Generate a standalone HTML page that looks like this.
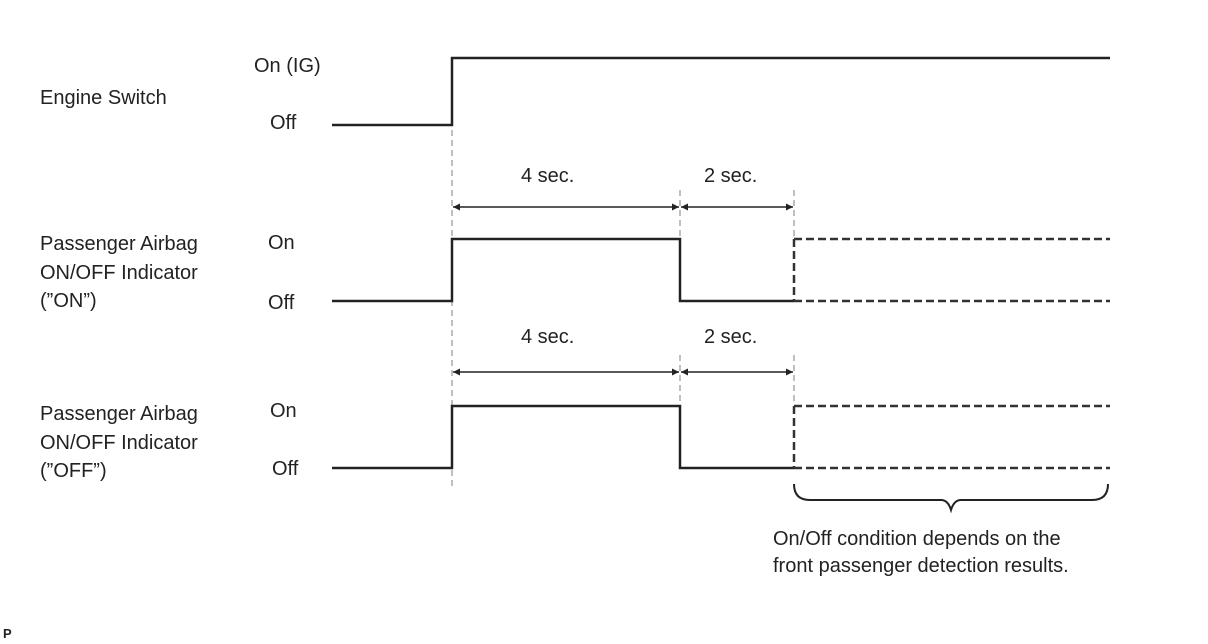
<!DOCTYPE html>
<html><head><style>
html,body{margin:0;padding:0;background:#fff;}
svg{display:block;}
text{font-family:"Liberation Sans",sans-serif;font-size:20px;fill:#222;}
</style></head><body>
<svg width="1208" height="644" viewBox="0 0 1208 644" xmlns="http://www.w3.org/2000/svg">
<defs>
<marker id="a" viewBox="0 0 10 10" refX="10" refY="5" markerWidth="9" markerHeight="7" orient="auto-start-reverse" markerUnits="userSpaceOnUse"><path d="M0,0 L10,5 L0,10 z" fill="#222"/></marker>
</defs>
<!-- dashed guides -->
<g stroke="#aaa" stroke-width="1.5" stroke-dasharray="6,4" fill="none">
<line x1="452" y1="130" x2="452" y2="490"/>
<line x1="680" y1="190" x2="680" y2="240"/>
<line x1="794" y1="190" x2="794" y2="240"/>
<line x1="680" y1="355" x2="680" y2="405"/>
<line x1="794" y1="355" x2="794" y2="405"/>
</g>
<g stroke="#222" stroke-width="2.5" fill="none">
<polyline points="332,125 452,125 452,58 1110,58"/>
<polyline points="332,301 452,301 452,239 680,239 680,301 794,301"/>
<polyline points="332,468 452,468 452,406 680,406 680,468 794,468"/>
</g>
<g stroke="#333" stroke-width="2.5" stroke-dasharray="8,4" fill="none">
<line x1="794" y1="239" x2="794" y2="301"/>
<line x1="794" y1="239" x2="1110" y2="239"/>
<line x1="794" y1="301" x2="1110" y2="301"/>
<line x1="794" y1="406" x2="794" y2="468"/>
<line x1="794" y1="406" x2="1110" y2="406"/>
<line x1="794" y1="468" x2="1110" y2="468"/>
</g>
<g stroke="#222" stroke-width="1.5">
<line x1="453" y1="207" x2="679" y2="207" marker-start="url(#a)" marker-end="url(#a)"/>
<line x1="681" y1="207" x2="793" y2="207" marker-start="url(#a)" marker-end="url(#a)"/>
<line x1="453" y1="372" x2="679" y2="372" marker-start="url(#a)" marker-end="url(#a)"/>
<line x1="681" y1="372" x2="793" y2="372" marker-start="url(#a)" marker-end="url(#a)"/>
</g>
<path d="M794,484 Q794,500 810,500 L941,500 Q948,500 951,510 Q954,500 961,500 L1092,500 Q1108,500 1108,484" stroke="#222" stroke-width="2" fill="none"/>
<text x="521" y="182">4 sec.</text>
<text x="704" y="182">2 sec.</text>
<text x="521" y="343">4 sec.</text>
<text x="704" y="343">2 sec.</text>
<text x="40" y="104">Engine Switch</text>
<text x="40" y="250">Passenger Airbag</text>
<text x="40" y="279">ON/OFF Indicator</text>
<text x="40" y="307">(”ON”)</text>
<text x="40" y="420">Passenger Airbag</text>
<text x="40" y="449">ON/OFF Indicator</text>
<text x="40" y="477">(”OFF”)</text>
<text x="254" y="72">On (IG)</text>
<text x="270" y="129">Off</text>
<text x="268" y="249">On</text>
<text x="268" y="309">Off</text>
<text x="270" y="417">On</text>
<text x="272" y="475">Off</text>
<text x="773" y="545">On/Off condition depends on the</text>
<text x="773" y="572">front passenger detection results.</text>
<text x="3" y="638" style="font-size:13px;font-weight:bold">P</text>
</svg>
</body></html>
